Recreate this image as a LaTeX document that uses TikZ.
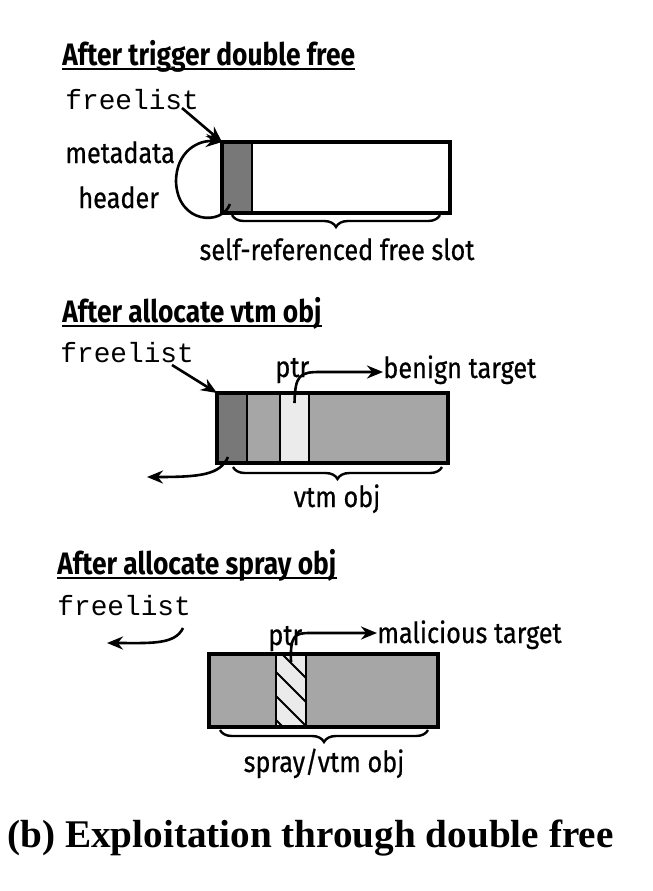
\documentclass[tikz,border=0pt]{standalone}
\usepackage{fontspec}
\setmainfont{Liberation Serif}
\setmonofont{Liberation Mono}
\newfontfamily\condfont[FakeStretch=0.85]{Fira Sans}
\newfontfamily\lblfont[FakeStretch=0.87, FakeBold=0.6]{Fira Sans}
\usetikzlibrary{arrows.meta, calc, decorations.pathreplacing}

\definecolor{metagray}{gray}{0.47}
\definecolor{objgray}{gray}{0.65}
\definecolor{ptrgray}{gray}{0.92}

\tikzset{
  txt/.style={inner sep=0pt, anchor=base west},
  heading/.style={txt, font=\condfont\bfseries\fontsize{15.5}{17}\selectfont},
  lbl/.style={txt, font=\lblfont\fontsize{14.5}{16}\selectfont},
  mono/.style={txt, font=\ttfamily\fontsize{13.9}{15}\selectfont},
  cell/.style={draw, line width=1.2pt, inner sep=0pt, outer sep=0pt, anchor=north west, minimum height=#1},
  slab/.style={draw, line width=2pt},
  link/.style={-{Stealth[length=8pt,width=6.5pt]}, line width=1.3pt},
  brc/.style={decorate, decoration={brace, mirror, amplitude=6pt}, line width=1.2pt},
  uline/.style={line width=1pt}
}

\begin{document}
\begin{tikzpicture}[x=0.5pt,y=-0.5pt]
\useasboundingbox (0,0) rectangle (653,891);

% after trigger double free
\node[heading] (h1) at (62,65) {After trigger double free};
\draw[uline] ([yshift=-2pt]h1.base west) -- ([yshift=-2pt]h1.base east);
\node[mono] (fl1) at (65,109) {freelist};
\node[lbl] (meta) at (65,163) {metadata};
\node[lbl] (hdr) at (78,208) {header};
\node[cell=35.5pt, fill=metagray, minimum width=15pt] (md1) at (222,142) {};
\node[cell=35.5pt, fill=white, minimum width=99pt] (slot1) at (md1.north east) {};
\draw[slab] (md1.north west) rectangle (slot1.south east);
\draw[brc] ([xshift=5pt,yshift=-1pt]md1.south west) -- ([xshift=-5pt,yshift=-1pt]slot1.south east);
\node[lbl, anchor=base] (slotlbl) at (337,260) {self-referenced free slot};
\coordinate (fl1t) at (182,108);
\draw[link] (fl1t) -- (md1.north west);
\coordinate (loop1) at (230,204);
\draw[link] (loop1) .. controls (222,226) and (178,224) .. (176,182) .. controls (176,150) and (200,140) .. (md1.north west);

% after allocate vtm obj
\node[heading] (h2) at (62,322) {After allocate vtm obj};
\draw[uline] ([yshift=-2pt]h2.base west) -- ([yshift=-2pt]h2.base east);
\node[mono] (fl2) at (60,362) {freelist};
\node[cell=35pt, fill=metagray, minimum width=15pt] (md2) at (217,393) {};
\node[cell=35pt, fill=objgray, minimum width=16.5pt] (vt2) at (md2.north east) {};
\node[cell=35pt, fill=ptrgray, minimum width=14.5pt] (pc2) at (vt2.north east) {};
\node[cell=35pt, fill=objgray, minimum width=69.5pt] (rest2) at (pc2.north east) {};
\draw[slab] (md2.north west) rectangle (rest2.south east);
\draw[brc] ([xshift=8pt,yshift=-2pt]md2.south west) -- ([xshift=-3pt,yshift=-2pt]rest2.south east);
\node[lbl, anchor=base] (vtmlbl) at (337,507) {vtm obj};
\node[lbl] (ptr2) at (275,377) {ptr};
\node[lbl] (benign) at (383,378) {benign target};
\coordinate (fl2t) at (172,365);
\draw[link] (fl2t) -- (md2.north west);
\draw[link] ([yshift=-5pt]pc2.north) .. controls (295,375) and (300,372) .. (320,372) -- ([yshift=3pt]benign.base west);
\coordinate (next2) at (147,477);
\draw[link] ([xshift=5.5pt,yshift=3pt]md2.south west) .. controls (220,475) and (200,477) .. (next2);

% after allocate spray obj
\node[heading] (h3) at (57,574) {After allocate spray obj};
\draw[uline] ([yshift=-2pt]h3.base west) -- ([yshift=-2pt]h3.base east);
\node[mono] (fl3) at (57,615) {freelist};
\node[cell=36.5pt, fill=objgray, minimum width=33.5pt] (sp3) at (209,654) {};
\node[cell=36.5pt, fill=ptrgray, minimum width=15pt] (pc3) at (sp3.north east) {};
\node[cell=36.5pt, fill=objgray, minimum width=66pt] (rest3) at (pc3.north east) {};
\begin{scope}
\clip (pc3.north west) rectangle (pc3.south east);
\foreach \k in {0,...,4}
  \draw[line width=1pt] ($(pc3.north west)+(0,\k*24-30)$) -- ++(40,40);
\end{scope}
\draw[line width=1.2pt] (pc3.north west) rectangle (pc3.south east);
\draw[slab] (sp3.north west) rectangle (rest3.south east);
\draw[brc] ([xshift=5.5pt,yshift=-1.5pt]sp3.south west) -- ([xshift=-5pt,yshift=-1.5pt]rest3.south east);
\node[lbl, anchor=base] (spraylbl) at (324,772) {spray/vtm obj};
\node[lbl] (ptr3) at (268,645) {ptr};
\node[lbl] (malic) at (377,643) {malicious target};
\coordinate (fl3t) at (183,628);
\coordinate (next3) at (107,643);
\draw[link] (fl3t) .. controls (175,645) and (150,643) .. (next3);
\draw[link] ([yshift=-4pt]pc3.north) .. controls (290,635) and (295,633) .. (310,633) -- ([yshift=5pt]malic.base west);

\node[txt, font=\bfseries\fontsize{19.6}{22}\selectfont] (cap) at (7,847) {(b) Exploitation through double free};
\end{tikzpicture}
\end{document}
